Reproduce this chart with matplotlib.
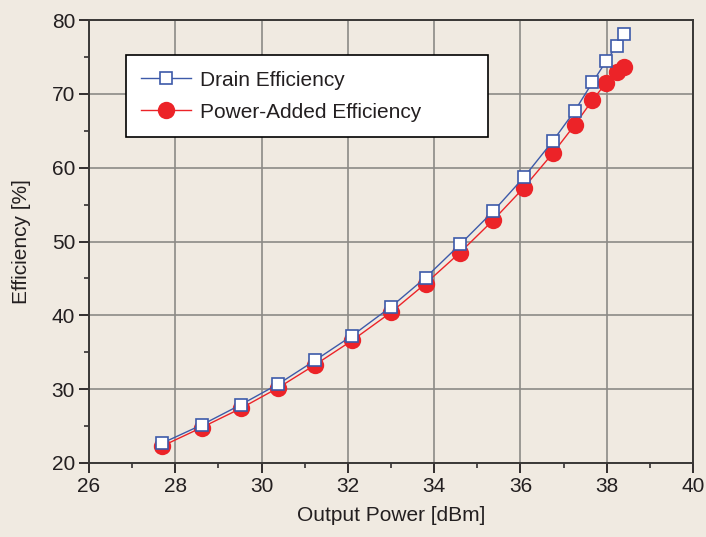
import matplotlib
matplotlib.use("Agg")
import matplotlib.pyplot as plt
from matplotlib.ticker import MultipleLocator

plt.rcParams['font.family'] = ['Liberation Sans', 'DejaVu Sans']

output_power = [27.70, 28.61, 29.52, 30.39, 31.24, 32.10, 33.00, 33.80, 34.60,
                35.37, 36.08, 36.75, 37.26, 37.67, 37.99, 38.23, 38.39]
drain_eff = [22.7, 25.15, 27.9, 30.7, 33.9, 37.25, 41.15, 45.1, 49.6,
             54.1, 58.7, 63.6, 67.7, 71.55, 74.45, 76.5, 78.15]
pae = [22.3, 24.8, 27.4, 30.2, 33.3, 36.6, 40.4, 44.3, 48.5,
       52.9, 57.3, 61.95, 65.8, 69.15, 71.5, 73.0, 73.7]

BG = '#f0eae1'
BLUE = '#3d5aa9'
RED = '#ec2328'
TXT = '#231f20'

fig = plt.figure(figsize=(7.06, 5.37), dpi=100, facecolor=BG)
ax = fig.add_axes([89/706, 1 - 463/537, (693-89)/706, (463-20)/537])
ax.set_facecolor(BG)

ax.plot(output_power, pae, color=RED, lw=1.0, marker='o', ms=12.5,
        mfc=RED, mec=RED, mew=0, label='Power-Added Efficiency', zorder=3)
ax.plot(output_power, drain_eff, color=BLUE, lw=1.0, marker='s', ms=9.3,
        mfc='white', mec=BLUE, mew=1.2, label='Drain Efficiency', zorder=4)

ax.set_xlim(26, 40)
ax.set_ylim(20, 80)
ax.xaxis.set_major_locator(MultipleLocator(2))
ax.xaxis.set_minor_locator(MultipleLocator(1))
ax.yaxis.set_major_locator(MultipleLocator(10))
ax.yaxis.set_minor_locator(MultipleLocator(5))
ax.grid(True, which='major', color='#8c8a86', lw=1.2, zorder=0)
ax.set_axisbelow(True)

ax.tick_params(which='major', direction='out', length=7, width=1.3,
               color=TXT, labelsize=15, labelcolor=TXT, pad=3)
ax.tick_params(which='minor', direction='out', length=3.5, width=1.1, color=TXT)
for s in ax.spines.values():
    s.set_color('#3a3836')
    s.set_linewidth(1.4)

ax.set_xlabel('Output Power [dBm]', fontsize=15, color=TXT, labelpad=7)
ax.set_ylabel('Efficiency [%]', fontsize=15, color=TXT, labelpad=15)

handles, labels = ax.get_legend_handles_labels()
leg = ax.legend(handles[::-1], labels[::-1], loc='upper left',
                bbox_to_anchor=(0.061, 0.747, 0.599, 0.174), mode='expand',
                fontsize=15, frameon=True,
                fancybox=False, edgecolor='black', framealpha=1,
                handlelength=2.4, borderpad=0.75, labelspacing=0.62,
                handletextpad=0.4, borderaxespad=0)
leg.get_frame().set_linewidth(1.2)
for t in leg.get_texts():
    t.set_color(TXT)

fig.savefig('out.png', dpi=100, facecolor=BG)
